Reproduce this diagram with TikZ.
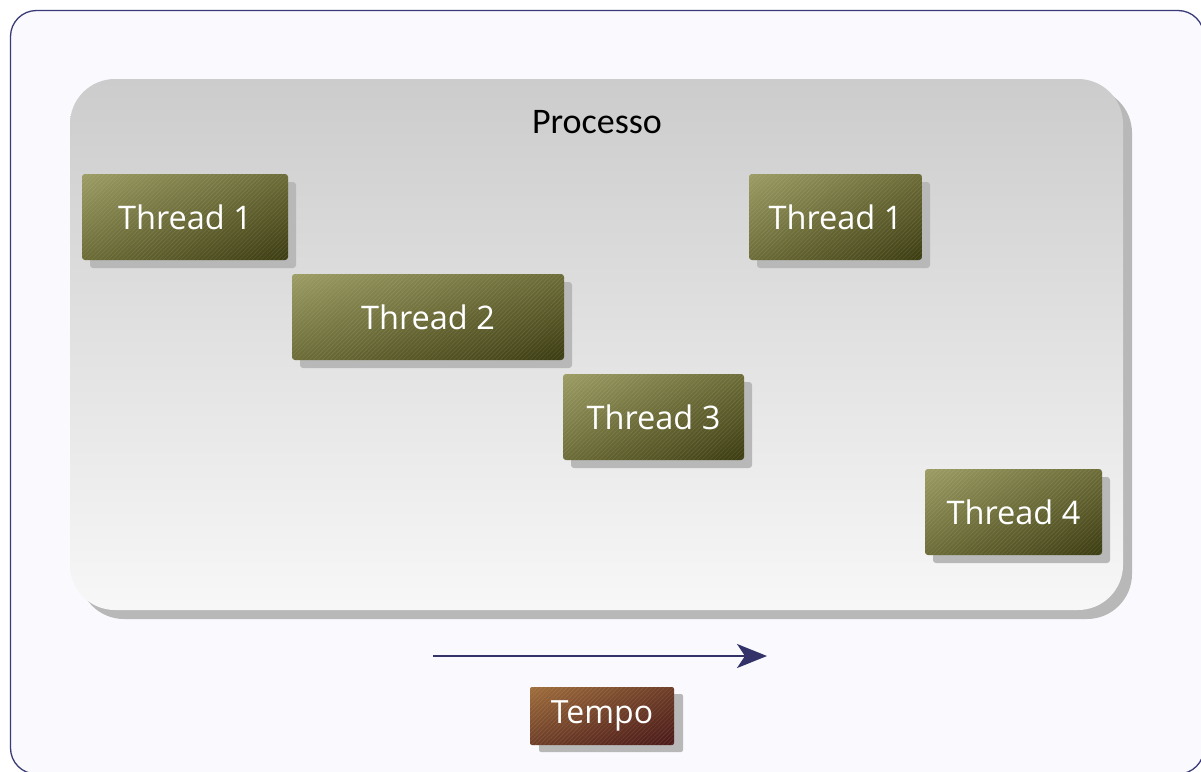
\documentclass[tikz,border=0pt]{standalone}
\usepackage{fontspec}
\newfontfamily\osans{Open Sans}
\newfontfamily\calib{Carlito}
\usetikzlibrary{shadows,shadings,patterns.meta,arrows.meta}
\definecolor{framecol}{HTML}{3A3A78}
\definecolor{framefill}{HTML}{F9F9FE}
\definecolor{arrowcol}{HTML}{33336A}
\definecolor{oliveA}{HTML}{9C9C64}
\definecolor{oliveB}{HTML}{6C6C38}
\definecolor{oliveC}{HTML}{3C3C12}
\definecolor{brownA}{HTML}{A06E3C}
\definecolor{brownB}{HTML}{6E3E28}
\definecolor{brownC}{HTML}{4A1818}
\definecolor{shadowcol}{HTML}{B8B8B8}
\tikzset{
  hatch/.style={postaction={pattern={Lines[angle=45,distance=3pt,line width=0.6pt]},pattern color=white,fill opacity=0.1,draw opacity=0.1}},
  threadbox/.style={rounded corners=3pt, inner sep=0pt, minimum height=86pt,
    upper left=oliveA, upper right=oliveB, lower left=oliveB, lower right=oliveC,
    drop shadow={shadow xshift=8pt, shadow yshift=-8pt, fill=shadowcol, opacity=1},
    hatch, text=white, font=\osans\fontsize{32.5}{38}\selectfont},
  tempobox/.style={rounded corners=2pt, inner sep=0pt, minimum height=58pt, minimum width=144pt,
    upper left=brownA, upper right=brownB, lower left=brownB, lower right=brownC,
    drop shadow={shadow xshift=9pt, shadow yshift=-7pt, fill=shadowcol, opacity=1},
    hatch, text=white, font=\osans\fontsize{32}{38}\selectfont},
  procbox/.style={rounded corners=45pt, inner sep=0pt, minimum width=1053pt, minimum height=531pt,
    top color=black!20, bottom color=white!97!black,
    drop shadow={shadow xshift=9pt, shadow yshift=-9pt, fill=shadowcol, opacity=1}},
  timearrow/.style={draw=arrowcol, line width=2.5pt, -{Stealth[length=30pt,width=24pt,inset=8pt]}}
}
\begin{document}
\begin{tikzpicture}[x=1pt,y=-1pt]
\useasboundingbox (0,0) rectangle (1201,771);
\draw[framecol, fill=framefill, line width=1.3pt, rounded corners=26pt] (10.5,10.5) rectangle (1204,774);
\node[procbox] (proc) at (596.5,344.5) {};
\node[anchor=base, font=\calib\fontsize{36}{40}\selectfont, text=black] (proclabel) at (597,133) {Processo};
\node[threadbox, minimum width=206pt] (t1a) at (185,217) {\raisebox{-2pt}{Thread 1}};
\node[threadbox, minimum width=272pt] (t2) at (428,317) {\raisebox{-2pt}{Thread 2}};
\node[threadbox, minimum width=181pt] (t3) at (653.5,417) {\raisebox{-2pt}{Thread 3}};
\node[threadbox, minimum width=173pt] (t1b) at (835.5,217) {\raisebox{-2pt}{Thread 1}};
\node[threadbox, minimum width=177pt] (t4) at (1013.5,512) {\raisebox{-2pt}{Thread 4}};
\coordinate (ta) at (433,656);
\coordinate (tb) at (767,656);
\draw[timearrow] (ta) -- (tb);
\node[tempobox] (tempo) at (602,716) {\raisebox{-2pt}{Tempo}};
\end{tikzpicture}
\end{document}
